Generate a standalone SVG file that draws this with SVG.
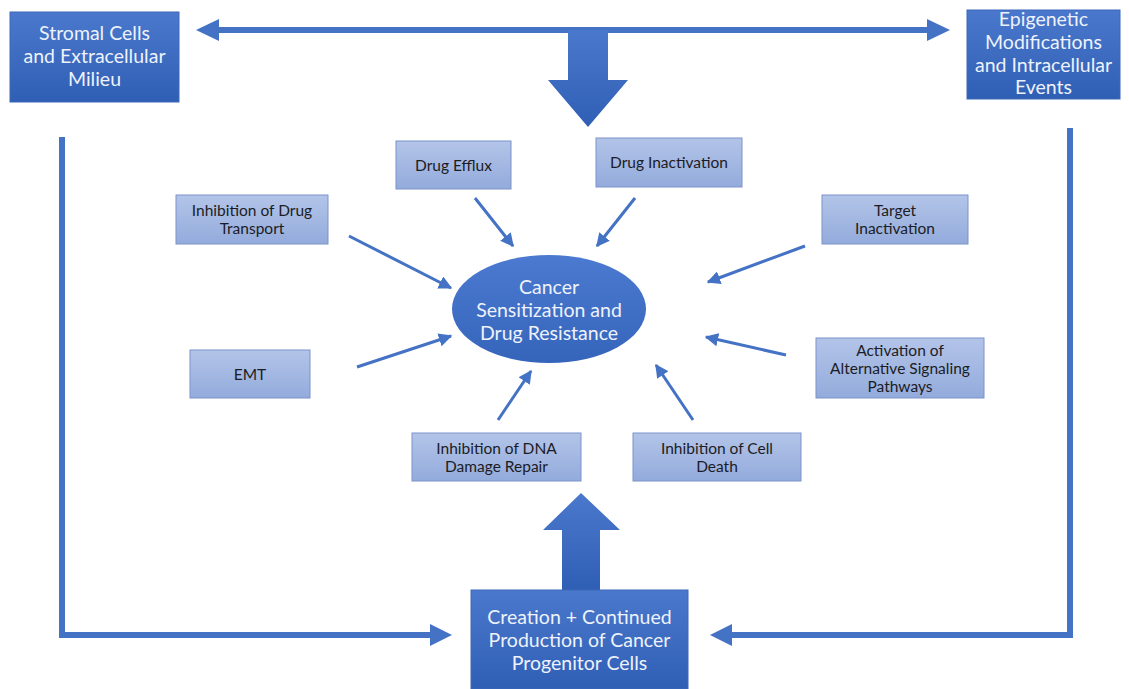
<svg xmlns="http://www.w3.org/2000/svg" width="1129" height="689" viewBox="0 0 1129 689">
<defs>
<linearGradient id="gBig" x1="0" y1="0" x2="0" y2="1"><stop offset="0" stop-color="#4a78cc"/><stop offset="1" stop-color="#2f5fb5"/></linearGradient>
<linearGradient id="gSmall" x1="0" y1="0" x2="0" y2="1"><stop offset="0" stop-color="#b3c4e8"/><stop offset="1" stop-color="#93abdc"/></linearGradient>
<linearGradient id="gEll" x1="0" y1="0" x2="0" y2="1"><stop offset="0" stop-color="#4b7ad0"/><stop offset="1" stop-color="#3564bb"/></linearGradient>
<marker id="ah" viewBox="0 0 10 10" refX="9" refY="5" markerWidth="4.5" markerHeight="4.5" orient="auto" markerUnits="strokeWidth"><path d="M0,0 L10,5 L0,10 z" fill="#4472c4"/></marker>
<style>
.big{fill:url(#gBig);stroke:#3d68b8;stroke-width:1}
.small{fill:url(#gSmall);stroke:#7c93c9;stroke-width:1}
.tb{font-family:Lato,"Liberation Sans",sans-serif;font-size:19.5px;fill:#eef2fb;text-anchor:middle}
.ts{font-family:Lato,"Liberation Sans",sans-serif;font-size:15.5px;fill:#1c1c24;text-anchor:middle}
.thin{stroke:#4472c4;stroke-width:3;fill:none;marker-end:url(#ah)}
.thick{stroke:#4472c4;stroke-width:6;fill:none}
.fillA{fill:#4472c4}
</style>
</defs>
<rect width="1129" height="689" fill="#ffffff"/>
<g id="connectors">
<line x1="214" y1="30" x2="932" y2="30" class="thick"/>
<polygon class="fillA" points="196,30 219,19 219,41"/>
<polygon class="fillA" points="950,30 927,19 927,41"/>
<polygon fill="url(#gBig)" points="568,30 608,30 608,80 628,80 588,127 548,80 568,80"/>
<polyline points="62,137 62,635 434,635" class="thick"/>
<polygon class="fillA" points="452,635 430,624 430,646"/>
<polyline points="1070,128 1070,635 728,635" class="thick"/>
<polygon class="fillA" points="710,635 732,624 732,646"/>
<polygon fill="url(#gBig)" points="562,590 562,530 543,530 581,493 620,530 600,530 600,590"/>
<line x1="349" y1="236" x2="451" y2="288" class="thin"/>
<line x1="475" y1="198" x2="513" y2="246" class="thin"/>
<line x1="635" y1="198" x2="597" y2="246" class="thin"/>
<line x1="805" y1="246" x2="708" y2="282" class="thin"/>
<line x1="357" y1="367" x2="451" y2="336" class="thin"/>
<line x1="498" y1="420" x2="531" y2="371" class="thin"/>
<line x1="693" y1="420" x2="656" y2="365" class="thin"/>
<line x1="786" y1="355" x2="706" y2="337" class="thin"/>
</g>
<g id="stromal">
<rect x="10" y="12" width="169" height="90" class="big"/>
<text class="tb" x="94.5" y="40">Stromal Cells</text>
<text class="tb" x="94.5" y="63">and Extracellular</text>
<text class="tb" x="94.5" y="86">Milieu</text>
</g>
<g id="epigenetic">
<rect x="967" y="10" width="153" height="89" class="big"/>
<text class="tb" x="1043.5" y="26">Epigenetic</text>
<text class="tb" x="1043.5" y="49">Modifications</text>
<text class="tb" x="1043.5" y="72">and Intracellular</text>
<text class="tb" x="1043.5" y="94">Events</text>
</g>
<g id="center">
<ellipse cx="549" cy="309" rx="97" ry="54" fill="url(#gEll)"/>
<text class="tb" x="549" y="294">Cancer</text>
<text class="tb" x="549" y="317">Sensitization and</text>
<text class="tb" x="549" y="340">Drug Resistance</text>
</g>
<g id="drugEfflux">
<rect x="396" y="141" width="115" height="48" class="small"/>
<text class="ts" x="453.5" y="171">Drug Efflux</text>
</g>
<g id="drugInactivation">
<rect x="596" y="138" width="146" height="49" class="small"/>
<text class="ts" x="669" y="168">Drug Inactivation</text>
</g>
<g id="drugTransport">
<rect x="176" y="195" width="152" height="49" class="small"/>
<text class="ts" x="252" y="216">Inhibition of Drug</text>
<text class="ts" x="252" y="234">Transport</text>
</g>
<g id="targetInactivation">
<rect x="822" y="195" width="146" height="49" class="small"/>
<text class="ts" x="895" y="216">Target</text>
<text class="ts" x="895" y="234">Inactivation</text>
</g>
<g id="emt">
<rect x="190" y="350" width="120" height="48" class="small"/>
<text class="ts" x="250" y="380">EMT</text>
</g>
<g id="activation">
<rect x="816" y="338" width="168" height="60" class="small"/>
<text class="ts" x="900" y="356">Activation of</text>
<text class="ts" x="900" y="374">Alternative Signaling</text>
<text class="ts" x="900" y="392">Pathways</text>
</g>
<g id="dnaRepair">
<rect x="412" y="433" width="169" height="48" class="small"/>
<text class="ts" x="496.5" y="454">Inhibition of DNA</text>
<text class="ts" x="496.5" y="472">Damage Repair</text>
</g>
<g id="cellDeath">
<rect x="633" y="433" width="168" height="48" class="small"/>
<text class="ts" x="717" y="454">Inhibition of Cell</text>
<text class="ts" x="717" y="472">Death</text>
</g>
<g id="progenitor">
<rect x="471" y="590" width="217" height="99" class="big"/>
<text class="tb" x="579.5" y="624">Creation + Continued</text>
<text class="tb" x="579.5" y="647">Production of Cancer</text>
<text class="tb" x="579.5" y="670">Progenitor Cells</text>
</g>
</svg>
